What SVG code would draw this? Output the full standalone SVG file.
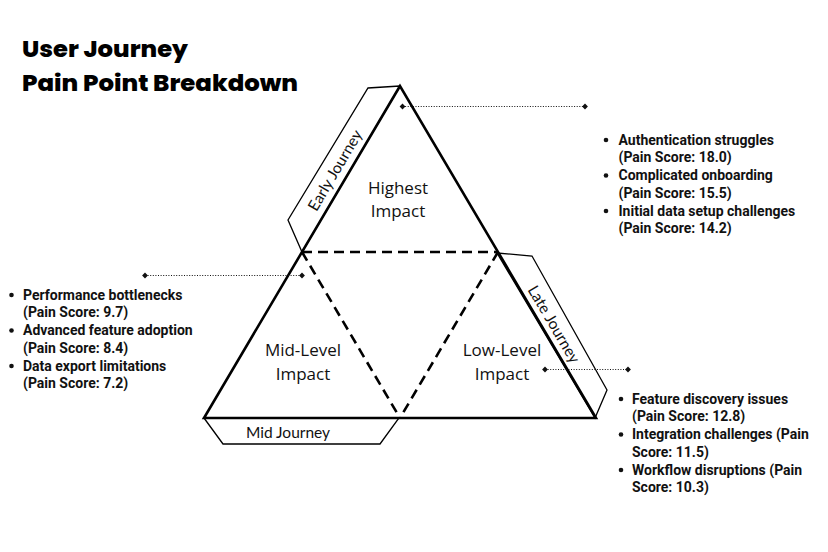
<svg xmlns="http://www.w3.org/2000/svg" width="828" height="552" viewBox="0 0 828 552">
<style>
.title{font-family:Poppins,Inter,"Liberation Sans",sans-serif;font-weight:800;font-size:23px;fill:#000}
.strip{fill:#fff;stroke:#000;stroke-width:1.3;stroke-linejoin:miter}
.outer{fill:none;stroke:#000;stroke-width:2.6;stroke-linejoin:miter}
.dash{fill:none;stroke:#000;stroke-width:2.6;stroke-dasharray:10 6}
.lvl{font-family:"Open Sans","Liberation Sans",sans-serif;font-size:17px;fill:#111;text-anchor:middle}
.jr{font-family:Lato,"Open Sans",sans-serif;font-size:15.5px;fill:#111;text-anchor:middle;dominant-baseline:central}
.b{font-family:Roboto,"Liberation Sans",sans-serif;font-weight:700;font-size:14px;fill:#111}
.dot{fill:#111}
.conn{stroke:#111;stroke-width:1.2;stroke-dasharray:1 1.6;fill:none}
</style>
<rect width="828" height="552" fill="#fff"/>
<g id="title">
<text class="title" x="22" y="57" textLength="166" lengthAdjust="spacingAndGlyphs">User Journey</text>
<text class="title" x="22" y="91" textLength="276" lengthAdjust="spacingAndGlyphs">Pain Point Breakdown</text>
</g>
<g id="early-journey">
<polygon class="strip" points="400,86 368,88 288,220 302,252"/>
<text class="jr" transform="translate(334.5,170) rotate(-59.5)">Early Journey</text>
</g>
<g id="late-journey">
<polygon class="strip" points="497,253 532,256 607,390 595,418"/>
<text class="jr" transform="translate(554.5,324) rotate(59.5)">Late Journey</text>
</g>
<g id="mid-journey">
<polygon class="strip" points="204,418 223,444 380,444 399,418"/>
<text class="jr" x="288" y="432">Mid Journey</text>
</g>
<g id="pyramid">
<polygon class="outer" points="400,86 204,418 596,418"/>
<path class="dash" d="M302,252 L498,252 M302,252 L400,418 M498,252 L400,418"/>
</g>
<g id="highest">
<text class="lvl" x="398" y="194">Highest</text>
<text class="lvl" x="398" y="217">Impact</text>
</g>
<g id="mid-level">
<text class="lvl" x="303" y="356">Mid-Level</text>
<text class="lvl" x="303" y="380">Impact</text>
</g>
<g id="low-level">
<text class="lvl" x="502" y="356">Low-Level</text>
<text class="lvl" x="502" y="380">Impact</text>
</g>
<g id="connectors">
<path class="conn" d="M402.5,106.5 H585"/>
<path class="dot" d="M402.5,103.6 l2.9,2.9 -2.9,2.9 -2.9,-2.9z M585,103.6 l2.9,2.9 -2.9,2.9 -2.9,-2.9z"/>
<path class="conn" d="M145,275.5 H302"/>
<path class="dot" d="M145,272.6 l2.9,2.9 -2.9,2.9 -2.9,-2.9z M302,272.6 l2.9,2.9 -2.9,2.9 -2.9,-2.9z"/>
<path class="conn" d="M545,369.5 H628"/>
<path class="dot" d="M545,366.6 l2.9,2.9 -2.9,2.9 -2.9,-2.9z M628,366.6 l2.9,2.9 -2.9,2.9 -2.9,-2.9z"/>
</g>
<g id="list-early">
<circle class="dot" cx="606" cy="140" r="2.3"/>
<circle class="dot" cx="606" cy="175.5" r="2.3"/>
<circle class="dot" cx="606" cy="211" r="2.3"/>
<text class="b" x="618.5" y="144.5">Authentication struggles</text>
<text class="b" x="618.5" y="162.3">(Pain Score: 18.0)</text>
<text class="b" x="618.5" y="180">Complicated onboarding</text>
<text class="b" x="618.5" y="197.8">(Pain Score: 15.5)</text>
<text class="b" x="618.5" y="215.5">Initial data setup challenges</text>
<text class="b" x="618.5" y="233.3">(Pain Score: 14.2)</text>
</g>
<g id="list-mid">
<circle class="dot" cx="11.5" cy="295" r="2.3"/>
<circle class="dot" cx="11.5" cy="330.5" r="2.3"/>
<circle class="dot" cx="11.5" cy="366" r="2.3"/>
<text class="b" x="23" y="299.5">Performance bottlenecks</text>
<text class="b" x="23" y="317.2">(Pain Score: 9.7)</text>
<text class="b" x="23" y="335">Advanced feature adoption</text>
<text class="b" x="23" y="352.7">(Pain Score: 8.4)</text>
<text class="b" x="23" y="370.5">Data export limitations</text>
<text class="b" x="23" y="388.2">(Pain Score: 7.2)</text>
</g>
<g id="list-late">
<circle class="dot" cx="621" cy="399" r="2.3"/>
<circle class="dot" cx="621" cy="434.5" r="2.3"/>
<circle class="dot" cx="621" cy="470" r="2.3"/>
<text class="b" x="632" y="403.5">Feature discovery issues</text>
<text class="b" x="632" y="421.2">(Pain Score: 12.8)</text>
<text class="b" x="632" y="439">Integration challenges (Pain</text>
<text class="b" x="632" y="456.7">Score: 11.5)</text>
<text class="b" x="632" y="474.5">Workflow disruptions (Pain</text>
<text class="b" x="632" y="492.2">Score: 10.3)</text>
</g>
</svg>
